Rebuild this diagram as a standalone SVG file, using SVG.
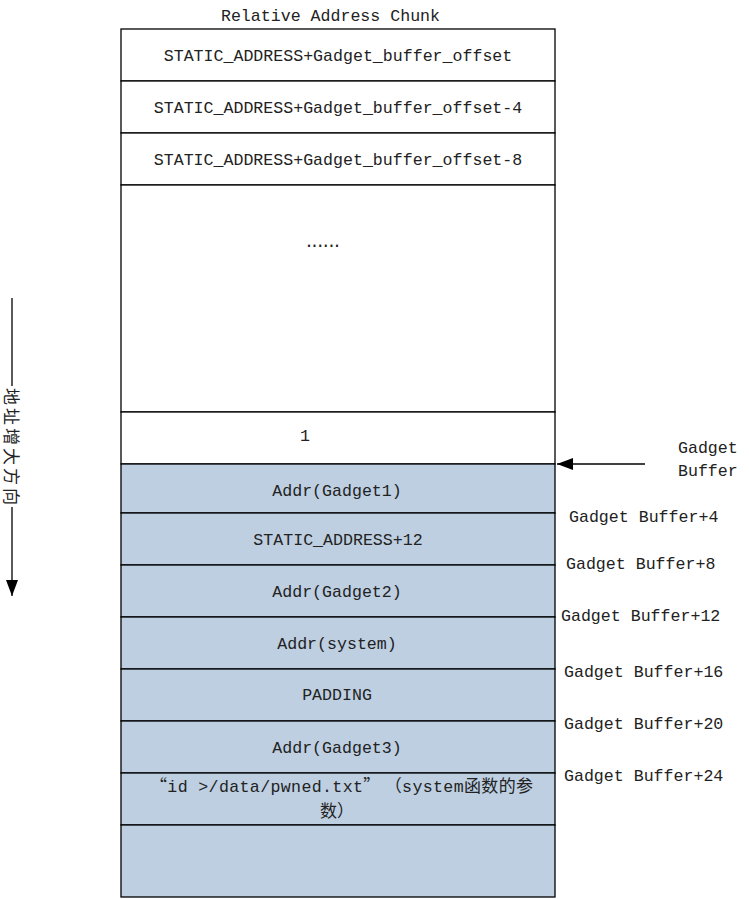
<svg xmlns="http://www.w3.org/2000/svg" width="749" height="899" viewBox="0 0 749 899">
<style>
  .t { font-family: "Liberation Mono", "Noto Sans CJK SC", monospace; font-size: 16.6px; fill: #222; }
  .c { text-anchor: middle; }
  .cell { fill: #ffffff; stroke: #000; stroke-width: 1.3; }
  .blue { fill: #BDCFE1; stroke: #000; stroke-width: 1.3; }
  .ln { stroke: #000; stroke-width: 1.3; fill: none; }
  .cjk { font-family: "Noto Sans CJK SC", sans-serif; font-size: 17px; }
</style>
<defs>
  <marker id="ah" markerWidth="16" markerHeight="12" refX="16" refY="6" orient="auto" markerUnits="userSpaceOnUse">
    <path d="M0,0 L16,6 L0,12 z" fill="#000"/>
  </marker>
</defs>
<rect width="749" height="899" fill="#ffffff"/>

<text class="t c" x="330.5" y="21">Relative Address Chunk</text>

<g id="row1"><rect class="cell" x="121" y="29" width="434" height="52"/><text class="t c" x="338" y="61">STATIC_ADDRESS+Gadget_buffer_offset</text></g>
<g id="row2"><rect class="cell" x="121" y="81" width="434" height="52"/><text class="t c" x="338" y="113">STATIC_ADDRESS+Gadget_buffer_offset-4</text></g>
<g id="row3"><rect class="cell" x="121" y="133" width="434" height="52"/><text class="t c" x="338" y="165">STATIC_ADDRESS+Gadget_buffer_offset-8</text></g>
<g id="row4"><rect class="cell" x="121" y="185" width="434" height="227"/><text class="t" x="304" y="247" textLength="38" lengthAdjust="spacing">......</text></g>
<g id="row5"><rect class="cell" x="121" y="412" width="434" height="52"/><text class="t c" x="305" y="441">1</text></g>
<g id="row6"><rect class="blue" x="121" y="464" width="434" height="49"/><text class="t c" x="337" y="496">Addr(Gadget1)</text></g>
<g id="row7"><rect class="blue" x="121" y="513" width="434" height="52"/><text class="t c" x="338" y="545">STATIC_ADDRESS+12</text></g>
<g id="row8"><rect class="blue" x="121" y="565" width="434" height="52"/><text class="t c" x="337" y="597">Addr(Gadget2)</text></g>
<g id="row9"><rect class="blue" x="121" y="617" width="434" height="52"/><text class="t c" x="337" y="649">Addr(system)</text></g>
<g id="row10"><rect class="blue" x="121" y="669" width="434" height="52"/><text class="t c" x="337" y="700">PADDING</text></g>
<g id="row11"><rect class="blue" x="121" y="721" width="434" height="52"/><text class="t c" x="337" y="753">Addr(Gadget3)</text></g>
<g id="row12"><rect class="blue" x="121" y="773" width="434" height="52"/>
  <text class="t" x="150" y="792" textLength="383" lengthAdjust="spacing"><tspan class="cjk">“</tspan>id &gt;/data/pwned.txt<tspan class="cjk">” （</tspan>system<tspan class="cjk">函数的参</tspan></text>
  <text class="t c" x="337" y="817"><tspan class="cjk">数）</tspan></text>
</g>
<g id="row13"><rect class="blue" x="121" y="825" width="434" height="72"/></g>

<g id="labels">
  <text class="t" x="678" y="453">Gadget</text>
  <text class="t" x="678" y="476">Buffer</text>
  <text class="t" x="569" y="522">Gadget Buffer+4</text>
  <text class="t" x="566" y="569">Gadget Buffer+8</text>
  <text class="t" x="561" y="621">Gadget Buffer+12</text>
  <text class="t" x="564" y="677">Gadget Buffer+16</text>
  <text class="t" x="564" y="729">Gadget Buffer+20</text>
  <text class="t" x="564" y="781">Gadget Buffer+24</text>
</g>

<g id="direction">
  <text class="cjk" x="0" y="0" fill="#222" font-size="18" transform="translate(5,388) rotate(90)" textLength="117" lengthAdjust="spacing">地址增大方向</text>
</g>

<g id="connectors">
  <line class="ln" x1="645" y1="464" x2="557" y2="464" marker-end="url(#ah)"/>
  <line class="ln" x1="12" y1="298" x2="12" y2="386"/>
  <line class="ln" x1="12" y1="507" x2="12" y2="596" marker-end="url(#ah)"/>
</g>
</svg>
